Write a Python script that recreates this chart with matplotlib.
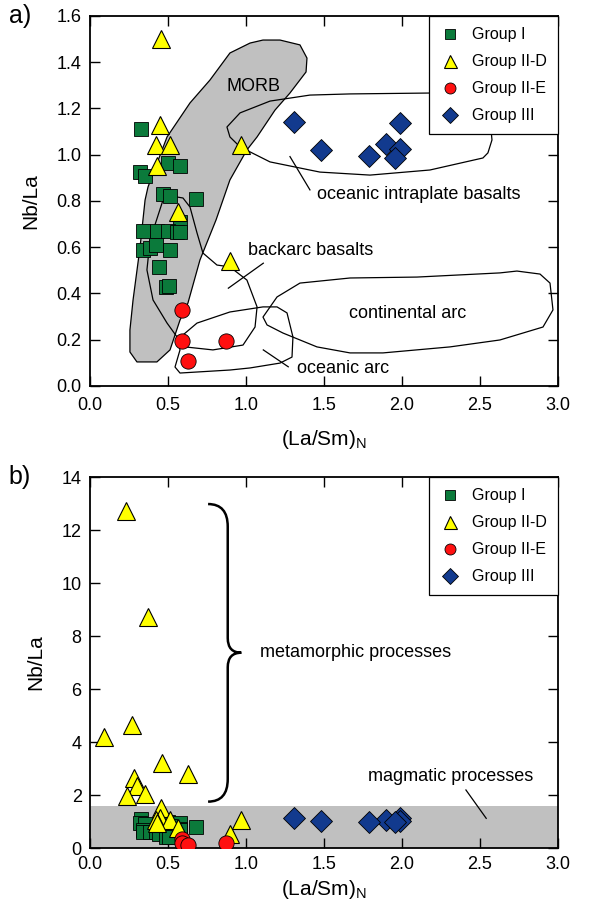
import matplotlib
matplotlib.use("Agg")
import matplotlib.pyplot as plt
import numpy as np
from matplotlib.path import Path
from matplotlib.patches import PathPatch, Polygon

plt.rcParams['font.family'] = ['Liberation Sans', 'DejaVu Sans']

# ---- data: (La/Sm)N and Nb/La ----
g1_x = [0.33, 0.32, 0.35, 0.50, 0.58, 0.47, 0.51, 0.68, 0.58, 0.34, 0.43, 0.50,
        0.56, 0.58, 0.34, 0.385, 0.42, 0.51, 0.44, 0.49, 0.505]
g1_y = [1.11, 0.925, 0.91, 0.965, 0.95, 0.83, 0.82, 0.81, 0.71, 0.672, 0.672, 0.672,
        0.667, 0.667, 0.59, 0.595, 0.61, 0.588, 0.513, 0.43, 0.432]

g2d_x = [0.455, 0.45, 0.42, 0.51, 0.97, 0.43, 0.566, 0.90,
         0.23, 0.37, 0.27, 0.09, 0.46, 0.63, 0.28, 0.30, 0.35, 0.24]
g2d_y = [1.50, 1.13, 1.04, 1.04, 1.04, 0.95, 0.754, 0.54,
         12.7, 8.7, 4.65, 4.2, 3.2, 2.8, 2.65, 2.35, 2.05, 1.95]

g2e_x = [0.59, 0.59, 0.87, 0.63]
g2e_y = [0.33, 0.195, 0.195, 0.11]

g3_x = [1.31, 1.48, 1.99, 1.90, 1.79, 1.99, 1.955]
g3_y = [1.143, 1.02, 1.136, 1.047, 0.995, 1.024, 0.985]

# ---- discrimination fields (panel a) ----
morb = [(1.026, 1.483), (1.109, 1.496), (1.218, 1.496), (1.346, 1.475), (1.391, 1.418),
        (1.385, 1.358), (1.282, 1.267), (1.186, 1.193), (1.071, 1.077), (1.006, 1.021),
        (0.897, 0.891), (0.808, 0.718), (0.705, 0.545), (0.628, 0.359), (0.577, 0.285),
        (0.513, 0.156), (0.429, 0.104), (0.301, 0.104), (0.256, 0.147), (0.256, 0.242),
        (0.276, 0.372), (0.321, 0.601), (0.353, 0.804), (0.372, 0.861), (0.494, 1.077),
        (0.641, 1.224), (0.769, 1.323), (0.897, 1.44)]
backarc = [(0.513, 0.822), (0.468, 0.804), (0.385, 0.631), (0.365, 0.502), (0.404, 0.372),
           (0.494, 0.272), (0.558, 0.212), (0.609, 0.169), (0.788, 0.156), (0.981, 0.177),
           (1.058, 0.255), (1.071, 0.342), (1.006, 0.458), (0.897, 0.515), (0.814, 0.523),
           (0.724, 0.575), (0.686, 0.662), (0.641, 0.774), (0.596, 0.813)]
oc_arc = [(0.558, 0.199), (0.686, 0.272), (0.897, 0.32), (1.109, 0.342), (1.199, 0.342),
          (1.263, 0.316), (1.301, 0.212), (1.295, 0.125), (1.218, 0.099), (1.026, 0.078),
          (0.897, 0.069), (0.577, 0.056), (0.545, 0.082), (0.577, 0.156)]
cont_arc = [(1.109, 0.298), (1.199, 0.385), (1.346, 0.445), (1.667, 0.467), (2.096, 0.471),
            (2.628, 0.489), (2.737, 0.497), (2.885, 0.484), (2.949, 0.445), (2.968, 0.329),
            (2.904, 0.255), (2.628, 0.199), (2.308, 0.169), (1.878, 0.143), (1.667, 0.143),
            (1.455, 0.169), (1.237, 0.229), (1.135, 0.264)]
oib = [(0.878, 1.12), (0.962, 1.181), (1.154, 1.232), (1.41, 1.258), (1.667, 1.263),
       (2.199, 1.267), (2.5, 1.237), (2.564, 1.159), (2.577, 1.064), (2.551, 1.008),
       (2.519, 0.986), (2.179, 0.934), (1.795, 0.912), (1.474, 0.925), (1.154, 0.969),
       (0.962, 1.034), (0.897, 1.077)]

magmatic_top = 1.58

GREEN = '#0b7a3b'
YELLOW = '#ffff00'
RED = '#ff1010'
BLUE = '#123a8e'
GRAY = '#c0c0c0'
FS = 13


def draw_points(ax):
    ax.plot(g1_x, g1_y, 's', ms=10, mfc=GREEN, mec='k', mew=0.6, ls='none', label='Group I', zorder=5)
    ax.plot(g2d_x, g2d_y, '^', ms=13, mfc=YELLOW, mec='k', mew=0.8, ls='none', label='Group II-D', zorder=6)
    ax.plot(g2e_x, g2e_y, 'o', ms=11, mfc=RED, mec='k', mew=0.6, ls='none', label='Group II-E', zorder=7)
    ax.plot(g3_x, g3_y, 'D', ms=11, mfc=BLUE, mec='k', mew=0.6, ls='none', label='Group III', zorder=7)
    leg = ax.legend(loc='upper right', borderaxespad=0, fancybox=False, framealpha=1,
                    edgecolor='k', fontsize=11.5, markerscale=0.72, labelspacing=0.75,
                    borderpad=0.7, handletextpad=0.7, handlelength=1.3)
    leg.get_frame().set_linewidth(0.9)
    leg.set_zorder(20)


def style(ax, ylim, yticks, yfmt, xpad, xlabelpad):
    ax.set_xlim(0, 3.0)
    ax.set_ylim(*ylim)
    ax.set_xticks(np.arange(0, 3.01, 0.5))
    ax.set_xticklabels(['%.1f' % v for v in np.arange(0, 3.01, 0.5)])
    ax.set_yticks(yticks)
    ax.set_yticklabels([yfmt % v for v in yticks])
    ax.tick_params(direction='in', length=7, width=1, top=True, right=True, labelsize=FS)
    ax.tick_params(axis='y', pad=6)
    ax.tick_params(axis='x', pad=xpad)
    for s in ax.spines.values():
        s.set_linewidth(1.3)
    ax.set_xlabel(r'(La/Sm)$_\mathregular{N}$', fontsize=15, labelpad=xlabelpad)
    ax.set_ylabel('Nb/La', fontsize=15, labelpad=12)


fig = plt.figure(figsize=(5.89, 9.14), dpi=100)
ax1 = fig.add_axes([0.1528, 0.5777, 0.7945, 0.4048])
ax2 = fig.add_axes([0.1528, 0.0722, 0.7945, 0.4059])

# ---- panel a ----
ax1.add_patch(Polygon(morb, closed=True, fc=GRAY, ec='k', lw=0.9, zorder=1, joinstyle='round'))
for poly in [backarc, oc_arc, cont_arc, oib]:
    ax1.add_patch(Polygon(poly, closed=True, fill=False, ec='k', lw=0.9, zorder=2, joinstyle='round'))

ax1.text(1.045, 1.293, 'MORB', fontsize=FS, ha='center', va='center', zorder=3)
ax1.text(1.453, 0.826, 'oceanic intraplate basalts', fontsize=FS, va='center')
ax1.plot([1.282, 1.41], [0.992, 0.848], c='k', lw=0.9)
ax1.text(1.013, 0.588, 'backarc basalts', fontsize=FS, va='center')
ax1.plot([1.111, 0.887], [0.531, 0.423], c='k', lw=0.9)
ax1.text(2.035, 0.314, 'continental arc', fontsize=FS, ha='center', va='center')
ax1.text(1.325, 0.077, 'oceanic arc', fontsize=FS, va='center')
ax1.plot([1.111, 1.271], [0.156, 0.083], c='k', lw=0.9)

draw_points(ax1)
style(ax1, (0, 1.6), np.arange(0, 1.61, 0.2), '%.1f', xpad=8, xlabelpad=10)

# ---- panel b ----
ax2.axhspan(0, magmatic_top, color=GRAY, zorder=0, lw=0)
draw_points(ax2)
style(ax2, (0, 14), np.arange(0, 14.1, 2), '%d', xpad=6, xlabelpad=3)

# curly brace for metamorphic processes
bx0, bx1, btip = 0.757, 0.883, 0.97
ytop, ybot, ymid = 12.98, 1.75, 7.37
verts = [(bx0, ytop), (bx1, ytop), (bx1, ytop - 0.85),
         (bx1, ymid + 0.55),
         (bx1, ymid), (btip, ymid),
         (bx1, ymid), (bx1, ymid - 0.55),
         (bx1, ybot + 0.85),
         (bx1, ybot), (bx0, ybot)]
codes = [Path.MOVETO, Path.CURVE3, Path.CURVE3, Path.LINETO,
         Path.CURVE3, Path.CURVE3, Path.CURVE3, Path.CURVE3,
         Path.LINETO, Path.CURVE3, Path.CURVE3]
ax2.add_patch(PathPatch(Path(verts, codes), fill=False, ec='k', lw=1.8, zorder=3))
ax2.text(1.09, 7.37, 'metamorphic processes', fontsize=FS, va='center')
ax2.text(1.78, 2.69, 'magmatic processes', fontsize=FS, va='center')
ax2.plot([2.41, 2.54], [2.19, 1.12], c='k', lw=0.9)

fig.text(0.015, 0.982, 'a)', fontsize=18, va='center')
fig.text(0.015, 0.478, 'b)', fontsize=18, va='center')

fig.savefig('out.png', dpi=100)
